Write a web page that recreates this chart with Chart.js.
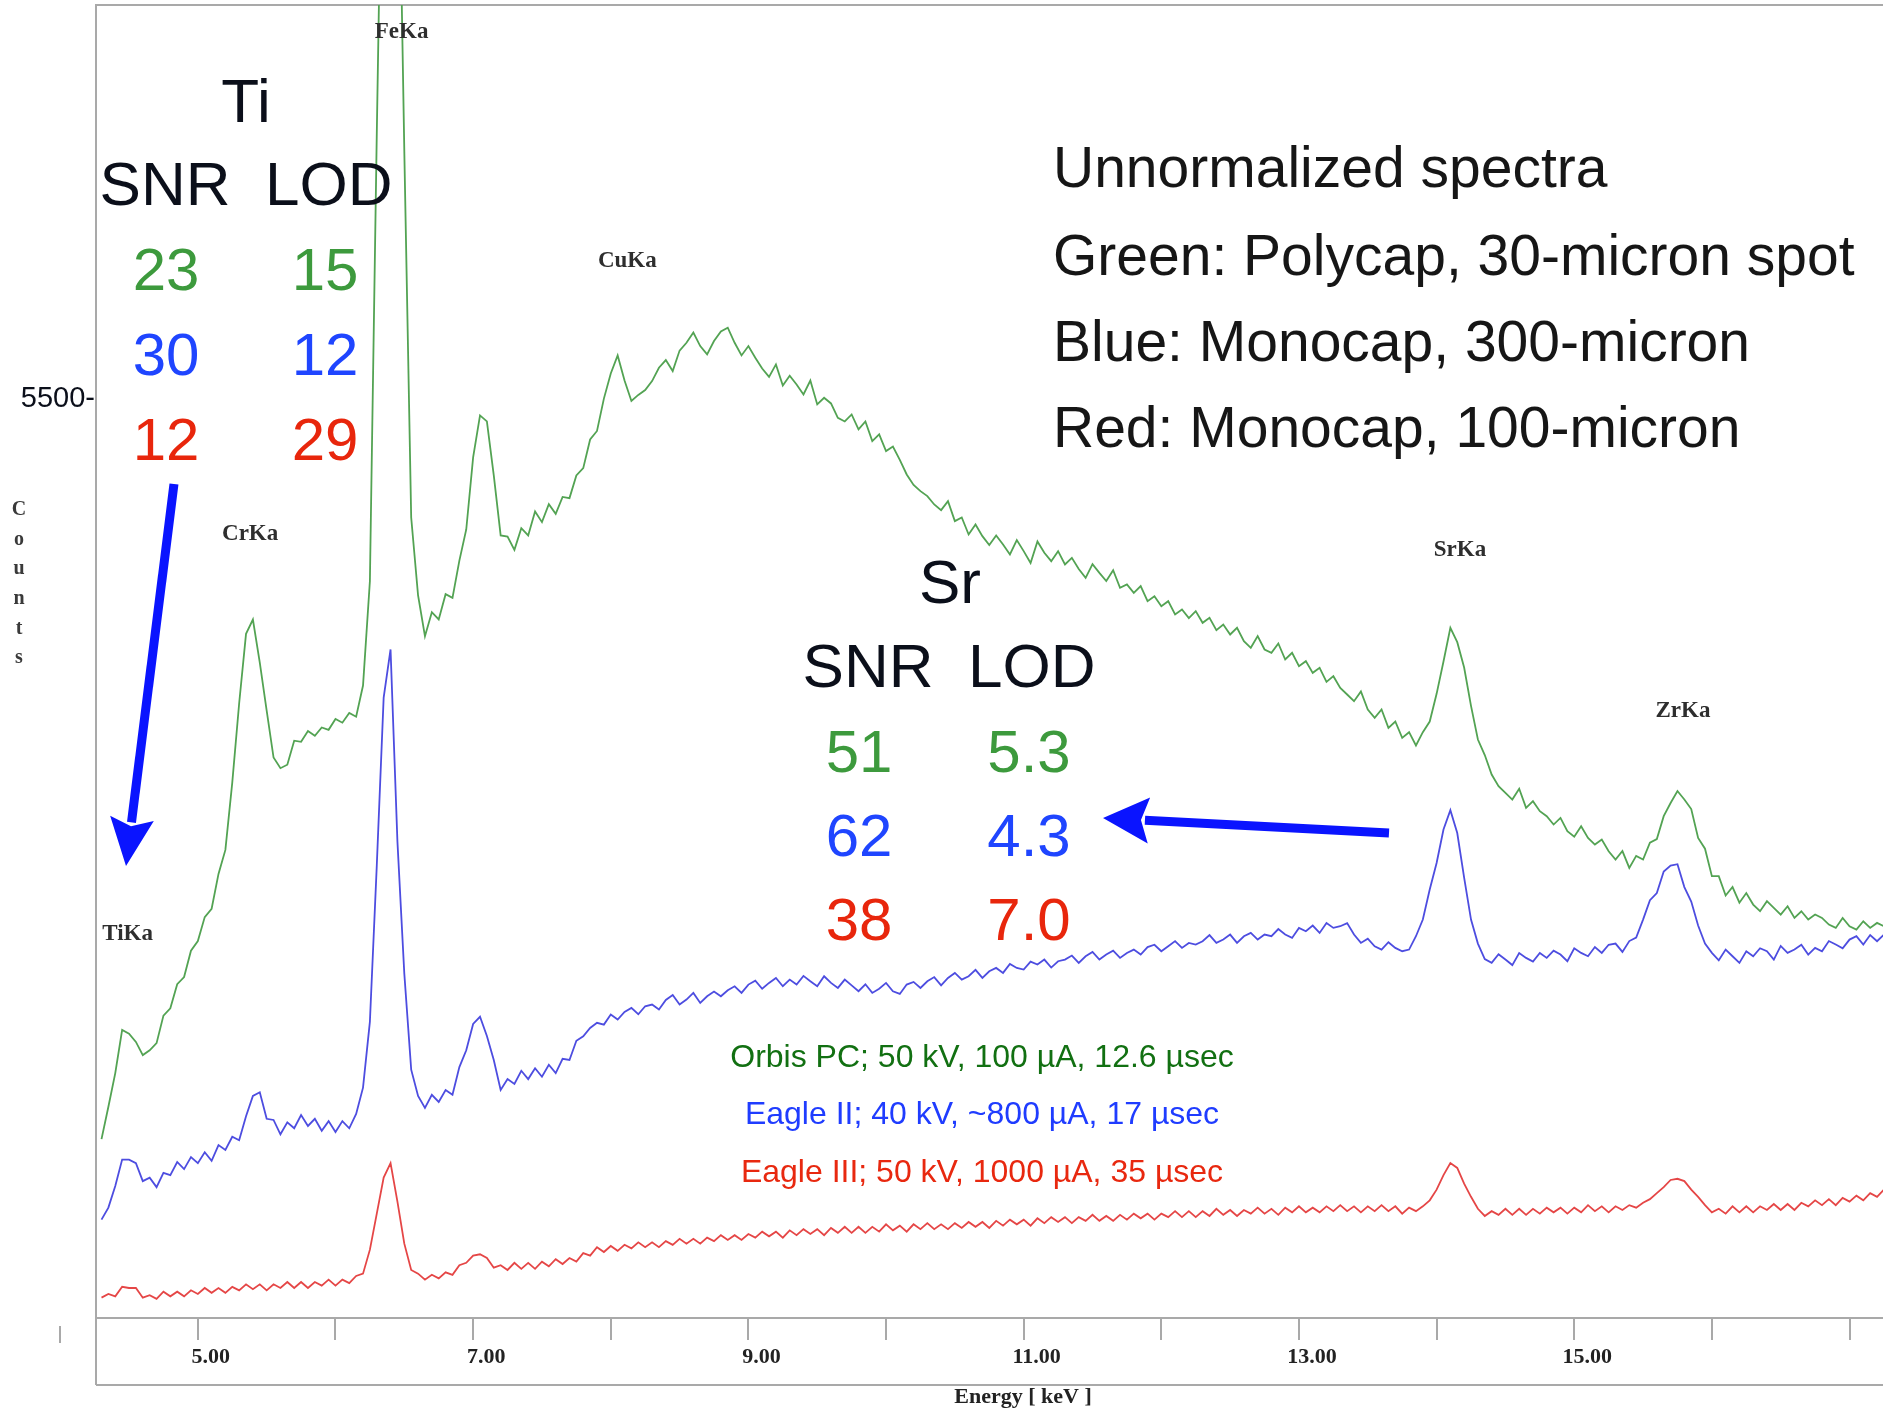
<!DOCTYPE html>
<html>
<head>
<meta charset="utf-8">
<title>Unnormalized XRF spectra</title>
<script src="https://cdn.jsdelivr.net/npm/chart.js@4/dist/chart.umd.min.js"></script>
<style>
  html, body { margin: 0; padding: 0; background: #fff; overflow: hidden; width: 1883px; height: 1411px; }
  #c { position: absolute; left: 0; top: 0; }
</style>
</head>
<body>
<canvas id="c" width="1950" height="1411" style="width:1950px;height:1411px"></canvas>
<script>
// Energy channels (keV)
const energy = [
  4.30,4.35,4.40,4.45,4.50,4.55,4.60,4.65,4.70,4.75,
  4.80,4.85,4.90,4.95,5.00,5.05,5.10,5.15,5.20,5.25,
  5.30,5.35,5.40,5.45,5.50,5.55,5.60,5.65,5.70,5.75,
  5.80,5.85,5.90,5.95,6.00,6.05,6.10,6.15,6.20,6.25,
  6.30,6.35,6.40,6.45,6.50,6.55,6.60,6.65,6.70,6.75,
  6.80,6.85,6.90,6.95,7.00,7.05,7.10,7.15,7.20,7.25,
  7.30,7.35,7.40,7.45,7.50,7.55,7.60,7.65,7.70,7.75,
  7.80,7.85,7.90,7.95,8.00,8.05,8.10,8.15,8.20,8.25,
  8.30,8.35,8.40,8.45,8.50,8.55,8.60,8.65,8.70,8.75,
  8.80,8.85,8.90,8.95,9.00,9.05,9.10,9.15,9.20,9.25,
  9.30,9.35,9.40,9.45,9.50,9.55,9.60,9.65,9.70,9.75,
  9.80,9.85,9.90,9.95,10.00,10.05,10.10,10.15,10.20,10.25,
  10.30,10.35,10.40,10.45,10.50,10.55,10.60,10.65,10.70,10.75,
  10.80,10.85,10.90,10.95,11.00,11.05,11.10,11.15,11.20,11.25,
  11.30,11.35,11.40,11.45,11.50,11.55,11.60,11.65,11.70,11.75,
  11.80,11.85,11.90,11.95,12.00,12.05,12.10,12.15,12.20,12.25,
  12.30,12.35,12.40,12.45,12.50,12.55,12.60,12.65,12.70,12.75,
  12.80,12.85,12.90,12.95,13.00,13.05,13.10,13.15,13.20,13.25,
  13.30,13.35,13.40,13.45,13.50,13.55,13.60,13.65,13.70,13.75,
  13.80,13.85,13.90,13.95,14.00,14.05,14.10,14.15,14.20,14.25,
  14.30,14.35,14.40,14.45,14.50,14.55,14.60,14.65,14.70,14.75,
  14.80,14.85,14.90,14.95,15.00,15.05,15.10,15.15,15.20,15.25,
  15.30,15.35,15.40,15.45,15.50,15.55,15.60,15.65,15.70,15.75,
  15.80,15.85,15.90,15.95,16.00,16.05,16.10,16.15,16.20,16.25,
  16.30,16.35,16.40,16.45,16.50,16.55,16.60,16.65,16.70,16.75,
  16.80,16.85,16.90,16.95,17.00,17.05,17.10,17.15,17.20,17.25
];

// Green: Orbis PC, polycapillary, 30-micron spot
const orbisCounts = [
  1073,1267,1469,1728,1706,1656,1577,1606,1649,1814,
  1858,2002,2045,2203,2261,2405,2455,2664,2808,3211,
  3686,4104,4190,3931,3643,3362,3298,3319,3463,3456,
  3521,3492,3542,3528,3593,3571,3629,3607,3794,4421,
  7106,9600,10800,9400,6998,4802,4334,4090,4234,4190,
  4342,4320,4543,4730,5162,5414,5378,5054,4694,4687,
  4608,4738,4694,4838,4774,4882,4824,4925,4918,5054,
  5098,5270,5321,5515,5666,5774,5623,5501,5537,5566,
  5620,5700,5746,5680,5803,5850,5911,5830,5780,5860,
  5918,5940,5850,5774,5830,5760,5695,5645,5720,5594,
  5652,5600,5540,5623,5480,5520,5486,5400,5378,5420,
  5330,5378,5260,5300,5200,5227,5148,5060,4997,4960,
  4930,4880,4846,4900,4780,4802,4700,4760,4690,4637,
  4694,4640,4580,4666,4600,4529,4658,4590,4540,4600,
  4520,4560,4493,4440,4522,4470,4421,4486,4380,4400,
  4350,4390,4300,4330,4270,4300,4220,4250,4198,4240,
  4170,4200,4126,4160,4100,4140,4060,4020,4090,4010,
  3990,4046,3950,3990,3910,3940,3870,3900,3816,3850,
  3780,3740,3700,3758,3650,3600,3650,3540,3578,3480,
  3514,3434,3514,3578,3744,3938,4140,4054,3902,3672,
  3470,3377,3260,3190,3150,3110,3175,3060,3100,3040,
  3010,2960,3000,2920,2887,2950,2880,2840,2870,2800,
  2750,2801,2700,2772,2750,2851,2873,3010,3089,3161,
  3110,3053,2880,2815,2650,2650,2534,2585,2491,2549,
  2480,2440,2500,2460,2420,2470,2400,2440,2390,2420,
  2400,2360,2340,2400,2350,2330,2380,2340,2370,2350
];

// Blue: Eagle II, monocapillary, 300-micron
const eagle2Counts = [
  590,662,792,950,950,929,821,842,785,871,
  857,936,893,965,929,994,943,1037,1008,1087,
  1066,1210,1332,1354,1195,1188,1102,1174,1138,1217,
  1152,1195,1123,1181,1116,1181,1138,1224,1382,1778,
  2714,3722,4010,2858,2066,1490,1332,1260,1339,1296,
  1368,1339,1505,1606,1764,1807,1692,1548,1368,1433,
  1404,1483,1433,1498,1447,1519,1469,1555,1548,1663,
  1690,1740,1771,1760,1820,1790,1836,1860,1822,1870,
  1880,1850,1908,1937,1880,1910,1950,1890,1930,1958,
  1930,1966,1990,1950,2000,2023,1975,2010,2040,1990,
  2030,2000,2052,2020,1990,2050,2010,1980,2030,1995,
  1960,2002,1950,1975,2010,1960,1944,2000,2016,1980,
  2020,2045,1995,2040,2070,2030,2050,2088,2040,2080,
  2100,2070,2124,2100,2090,2138,2120,2150,2102,2140,
  2150,2174,2130,2170,2196,2150,2180,2203,2160,2190,
  2210,2180,2225,2239,2200,2230,2261,2220,2250,2240,
  2260,2297,2250,2270,2300,2250,2290,2310,2270,2300,
  2290,2333,2300,2280,2340,2320,2354,2310,2369,2340,
  2350,2369,2300,2250,2275,2230,2210,2254,2220,2200,
  2210,2290,2390,2570,2729,2930,3046,2909,2642,2390,
  2246,2153,2130,2182,2150,2117,2189,2160,2138,2190,
  2160,2203,2180,2140,2218,2190,2170,2225,2190,2239,
  2246,2196,2261,2282,2390,2506,2549,2678,2714,2722,
  2585,2498,2354,2246,2190,2146,2210,2170,2130,2200,
  2170,2218,2200,2150,2232,2190,2210,2239,2180,2220,
  2200,2261,2240,2218,2270,2290,2240,2297,2260,2300
];

// Red: Eagle III, monocapillary, 100-micron
const eagle3Counts = [
  122,144,130,187,180,180,122,137,115,158,
  130,158,130,166,144,180,151,180,151,187,
  166,202,173,202,166,202,180,216,180,216,
  180,216,194,230,194,230,209,252,266,410,
  626,842,929,698,446,288,266,230,259,238,
  274,259,317,331,374,382,360,302,317,288,
  331,295,331,295,338,310,353,324,360,338,
  389,374,425,396,432,403,439,418,454,425,
  454,425,461,439,475,446,475,446,482,461,
  497,468,497,468,504,482,518,490,518,482,
  526,497,533,504,533,497,540,511,547,511,
  547,511,547,518,562,526,554,518,562,533,
  569,533,562,533,569,540,576,547,576,540,
  583,554,590,562,590,554,598,569,605,576,
  605,569,605,583,619,583,612,583,619,590,
  626,598,626,590,626,605,641,605,641,605,
  641,612,655,619,648,612,648,626,662,626,
  655,619,662,634,670,634,662,634,670,641,
  677,641,670,634,670,641,677,641,670,626,
  662,641,670,706,770,857,929,900,806,727,
  655,612,641,619,655,619,655,619,655,626,
  662,634,662,626,662,634,677,641,670,634,
  670,648,677,662,691,713,749,785,828,835,
  821,770,727,677,634,655,626,670,634,670,
  634,670,648,684,648,684,648,691,670,706,
  677,713,677,720,698,734,706,749,727,770
];

// Axis ticks
const xTickValues = [5, 6, 7, 8, 9, 10, 11, 12, 13, 14, 15, 16, 17];
const xTickLabels = ['5.00', '', '7.00', '', '9.00', '', '11.00', '', '13.00', '', '15.00', '', ''];
const yTickValues = [5500];
const yTickLabels = ['5500-'];

// Emission line markers: name, energy (keV), counts level of the label
const lineNames = ['TiKa', 'CrKa', 'FeKa', 'CuKa', 'SrKa', 'ZrKa'];
const lineEnergies = [4.49, 5.38, 6.48, 8.12, 14.17, 15.79];
const lineLabelCounts = [2306, 4705, 7714, 6341, 4609, 3638];

// Figures of merit per instrument (green, blue, red)
const tiSNR = ['23', '30', '12'];
const tiLOD = ['15', '12', '29'];
const srSNR = ['51', '62', '38'];
const srLOD = ['5.3', '4.3', '7.0'];

const notes = [
  'Unnormalized spectra',
  'Green: Polycap, 30-micron spot',
  'Blue: Monocap, 300-micron',
  'Red: Monocap, 100-micron'
];
const instruments = [
  'Orbis PC; 50 kV, 100 µA, 12.6 µsec',
  'Eagle II; 40 kV, ~800 µA, 17 µsec',
  'Eagle III; 50 kV, 1000 µA, 35 µsec'
];

const SANS = '"Liberation Sans", Arial, Helvetica, sans-serif';
const SERIF = '"Liberation Serif", "Times New Roman", serif';
const numColors = ['#3d9a3d', '#1f45ff', '#e8260c'];
const captionColors = ['#127012', '#1f3cff', '#e8280f'];
const INK = '#0b0f1a';

function put(ctx, s, x, y, font, color, align, maxW) {
  ctx.font = font;
  ctx.fillStyle = color;
  ctx.textAlign = align || 'center';
  ctx.textBaseline = 'alphabetic';
  if (maxW) ctx.fillText(s, x, y, maxW); else ctx.fillText(s, x, y);
}

function arrow(ctx, x0, y0, x1, y1, headLen, headHalf, shaft, color) {
  const dx = x1 - x0, dy = y1 - y0;
  const len = Math.hypot(dx, dy);
  const ux = dx / len, uy = dy / len;
  const bx = x1 - ux * headLen, by = y1 - uy * headLen;
  ctx.save();
  ctx.strokeStyle = color;
  ctx.fillStyle = color;
  ctx.lineWidth = shaft;
  ctx.lineCap = 'butt';
  ctx.beginPath();
  ctx.moveTo(x0, y0);
  ctx.lineTo(bx + ux * 4, by + uy * 4);
  ctx.stroke();
  ctx.beginPath();
  ctx.moveTo(x1, y1);
  ctx.lineTo(bx - uy * headHalf, by + ux * headHalf);
  ctx.lineTo(bx + ux * 8, by + uy * 8);
  ctx.lineTo(bx + uy * headHalf, by - ux * headHalf);
  ctx.closePath();
  ctx.fill();
  ctx.restore();
}

const frameAndNotes = {
  id: 'frameAndNotes',
  beforeDatasetsDraw(chart) {
    const { ctx, chartArea: a } = chart;
    ctx.save();
    ctx.strokeStyle = '#a9a9a9';
    ctx.lineWidth = 2;
    ctx.beginPath();
    // plot frame: left axis, top edge, x-axis line and lower box edge
    ctx.moveTo(a.left, a.bottom + 67);
    ctx.lineTo(a.left, a.top);
    ctx.lineTo(a.right, a.top);
    ctx.moveTo(a.left, a.bottom);
    ctx.lineTo(a.right, a.bottom);
    ctx.moveTo(a.left, a.bottom + 67);
    ctx.lineTo(a.right, a.bottom + 67);
    ctx.moveTo(a.left - 36, a.bottom + 8);
    ctx.lineTo(a.left - 36, a.bottom + 25);
    ctx.stroke();
    ctx.restore();
  },
  afterDatasetsDraw(chart) {
    const { ctx, scales } = chart;
    ctx.save();

    // "Counts" written as a vertical stack of letters
    const word = 'Counts';
    for (let i = 0; i < word.length; i++) {
      ctx.font = 'bold 20px ' + SERIF;
      ctx.fillStyle = '#3a3a3a';
      ctx.textAlign = 'center';
      ctx.textBaseline = 'middle';
      ctx.fillText(word[i], 19, 510 + i * 29.6);
    }

    // Emission line labels
    for (let i = 0; i < lineNames.length; i++) {
      const px = scales.x.getPixelForValue(lineEnergies[i]);
      const py = scales.y.getPixelForValue(lineLabelCounts[i]);
      ctx.font = 'bold 23px ' + SERIF;
      ctx.fillStyle = '#2e2e2e';
      ctx.textAlign = 'center';
      ctx.textBaseline = 'middle';
      ctx.fillText(lineNames[i], px, py);
    }

    // Ti block
    put(ctx, 'Ti', 246, 122, '62px ' + SANS, INK);
    put(ctx, 'SNR  LOD', 246, 205, '62px ' + SANS, INK);
    const rowBase = [290, 375, 460];
    for (let i = 0; i < 3; i++) {
      put(ctx, tiSNR[i], 166, rowBase[i], '60px ' + SANS, numColors[i]);
      put(ctx, tiLOD[i], 325, rowBase[i], '60px ' + SANS, numColors[i]);
    }

    // Sr block
    put(ctx, 'Sr', 950, 603, '62px ' + SANS, INK);
    put(ctx, 'SNR  LOD', 949, 687, '62px ' + SANS, INK);
    const srBase = [772, 856, 940];
    for (let i = 0; i < 3; i++) {
      put(ctx, srSNR[i], 859, srBase[i], '60px ' + SANS, numColors[i]);
      put(ctx, srLOD[i], 1029, srBase[i], '60px ' + SANS, numColors[i]);
    }

    // Description
    const noteBase = [187, 275, 361, 447];
    for (let i = 0; i < notes.length; i++) {
      put(ctx, notes[i], 1053, noteBase[i], '57px ' + SANS, '#161616', 'left');
    }

    // Instrument settings
    const capBase = [1067, 1124, 1182];
    for (let i = 0; i < instruments.length; i++) {
      put(ctx, instruments[i], 982, capBase[i], '32px ' + SANS, captionColors[i]);
    }

    // Arrows pointing at the Ti and Sr peaks
    arrow(ctx, 174, 484, 126, 866, 48, 22, 9, '#0a14ff');
    arrow(ctx, 1389, 833, 1103, 818, 46, 23, 9, '#0a14ff');

    ctx.restore();
  }
};

const toPoints = (ys) => energy.map((e, i) => ({ x: e, y: ys[i] }));

new Chart(document.getElementById('c').getContext('2d'), {
  type: 'line',
  data: {
    datasets: [
      { label: 'Orbis PC', data: toPoints(orbisCounts), borderColor: '#53a353', borderWidth: 1.8, pointRadius: 0, tension: 0, fill: false },
      { label: 'Eagle II', data: toPoints(eagle2Counts), borderColor: '#4d4de0', borderWidth: 1.8, pointRadius: 0, tension: 0, fill: false },
      { label: 'Eagle III', data: toPoints(eagle3Counts), borderColor: '#e54646', borderWidth: 1.8, pointRadius: 0, tension: 0, fill: false }
    ]
  },
  options: {
    responsive: false,
    animation: false,
    devicePixelRatio: 1,
    layout: { padding: { top: 5, left: 0, right: 0, bottom: 0 } },
    plugins: { legend: { display: false }, tooltip: { enabled: false } },
    scales: {
      x: {
        type: 'linear',
        min: 4.26,
        max: 17.73,
        afterBuildTicks: (s) => { s.ticks = xTickValues.map((v) => ({ value: v })); },
        afterFit: (s) => { s.height = 93; s.paddingLeft = 0; s.paddingRight = 0; },
        grid: { display: true, drawOnChartArea: false, drawTicks: true, tickLength: 22, color: '#a9a9a9', lineWidth: 2 },
        border: { display: false },
        ticks: {
          autoSkip: false, maxRotation: 0, padding: 4, labelOffset: 13,
          font: { family: SERIF, weight: 'bold', size: 22 }, color: '#222',
          callback: (v, i) => xTickLabels[i]
        },
        title: { display: true, text: 'Energy [ keV ]', font: { family: SERIF, weight: 'bold', size: 22 }, color: '#222', padding: 0 }
      },
      y: {
        type: 'linear',
        min: 0,
        max: 7876,
        afterBuildTicks: (s) => { s.ticks = yTickValues.map((v) => ({ value: v })); },
        afterFit: (s) => { s.width = 96; s.paddingTop = 0; s.paddingBottom = 0; },
        grid: { display: false, drawTicks: false },
        border: { display: false },
        ticks: {
          padding: 1, labelOffset: -2,
          font: { family: SANS, size: 29 }, color: INK,
          callback: (v, i) => yTickLabels[i]
        }
      }
    }
  },
  plugins: [frameAndNotes]
});
</script>
</body>
</html>
